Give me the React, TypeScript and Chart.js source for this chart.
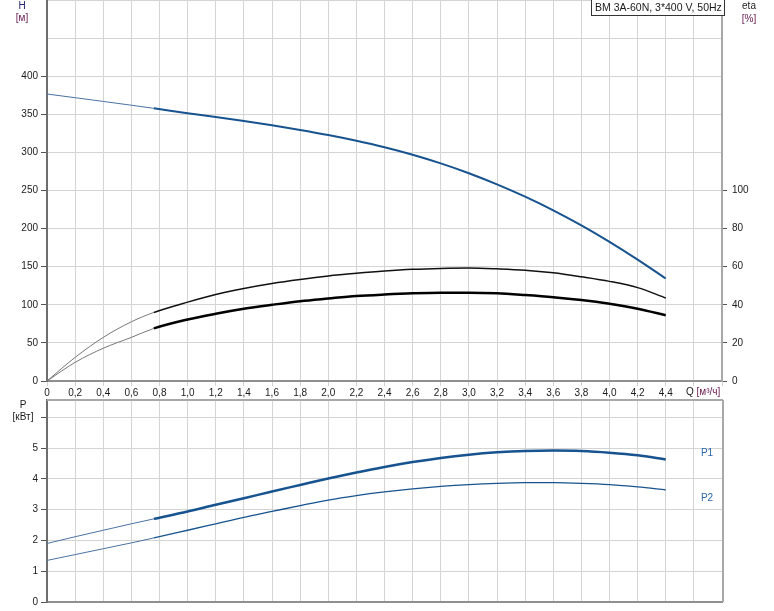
import React, { useEffect, useRef } from 'react';
import { Chart, registerables } from 'chart.js';

Chart.register(...registerables);

// ---- data ----
const Q = [0, 0.2, 0.4, 0.6, 0.76, 1.0, 1.2, 1.4, 1.6, 1.8, 2.0, 2.2, 2.4, 2.6, 2.8, 3.0, 3.2, 3.4, 3.6, 3.8, 4.0, 4.2, 4.4];
const H = [376.6, 371.8, 366.9, 361.9, 357.8, 351.5, 346.4, 341.1, 335.5, 329.4, 322.7, 315.2, 306.7, 296.9, 285.6, 272.7, 258.1, 241.9, 224.0, 204.2, 182.6, 159.3, 134.5];
const ETA_PUMP = [0, 12.4, 22.9, 31.1, 36.0, 41.4, 45.4, 48.6, 51.2, 53.3, 55.1, 56.5, 57.7, 58.6, 59.1, 59.3, 58.9, 58.2, 56.8, 54.7, 52.3, 49.0, 43.6];
const ETA_TOTAL = [0, 9.8, 17.2, 22.9, 27.6, 32.3, 35.3, 37.9, 40.0, 41.9, 43.3, 44.6, 45.4, 46.0, 46.3, 46.3, 46.0, 45.1, 44.0, 42.5, 40.5, 37.9, 34.5];
const P1 = [1.90, 2.12, 2.33, 2.54, 2.70, 2.94, 3.16, 3.37, 3.59, 3.80, 4.01, 4.205, 4.385, 4.545, 4.68, 4.785, 4.86, 4.905, 4.92, 4.905, 4.85, 4.765, 4.63];
const P2 = [1.35, 1.54, 1.73, 1.92, 2.08, 2.33, 2.54, 2.75, 2.94, 3.13, 3.31, 3.455, 3.575, 3.675, 3.755, 3.815, 3.855, 3.875, 3.875, 3.855, 3.815, 3.74, 3.64];
const THICK_FROM = 4; // index where curves become bold (Q = 0.76)

const TITLE = 'BM 3A-60N, 3*400 V, 50Hz';
const H_LABEL_MAX = 400;
const ETA_LABEL_MAX = 100;
const P_LABEL_MAX = 5;
const Q_LABEL_MAX = 4.4;

const FONT = '"Liberation Sans", Arial, Helvetica, sans-serif';
const GRID = '#d4d4d4';
const AXIS = '#8f8f8f';
const AXIS_LEFT = '#6e6e6e';
const BLUE = '#17538f';
const BLUE_THIN = '#4a72a0';
const MAROON = '#6b2056';
const NAVY = '#23236e';
const TXT = '#1a1a1a';

const pts = (ys: number[]) => Q.map((q, i) => ({ x: q, y: ys[i] }));
const fmtQ = (v: number) => {
  if (v > Q_LABEL_MAX + 0.05) return '';
  if (Math.abs(v) < 1e-9) return '0';
  return v.toFixed(1).replace('.', ',');
};
const thin = (c: any) => c.p0DataIndex < THICK_FROM;
const noPad = (s: any) => {
  s.paddingTop = 0;
  s.paddingBottom = 0;
  s.paddingLeft = 0;
  s.paddingRight = 0;
};

const topDecor = {
  id: 'topDecor',
  afterDraw(chart: any) {
    const { ctx, chartArea } = chart;
    ctx.save();
    ctx.font = `10px ${FONT}`;
    ctx.textAlign = 'center';
    ctx.textBaseline = 'middle';
    ctx.fillStyle = NAVY;
    ctx.fillText('H', 22, 6);
    ctx.fillStyle = MAROON;
    ctx.fillText('[м]', 22, 18);
    ctx.fillStyle = TXT;
    ctx.fillText('eta', 749, 6);
    ctx.fillStyle = MAROON;
    ctx.fillText('[%]', 749, 19);

    // title box
    ctx.font = `10.5px ${FONT}`;
    const tw = ctx.measureText(TITLE).width;
    const right = chartArea.right + 2.5;
    const left = Math.round(right - tw - 7) + 0.5;
    ctx.fillStyle = '#ffffff';
    ctx.fillRect(left, -1, right - left, 16.5);
    ctx.strokeStyle = '#333333';
    ctx.lineWidth = 1;
    ctx.strokeRect(left, -1, right - left, 16.5);
    ctx.fillStyle = TXT;
    ctx.textAlign = 'left';
    ctx.fillText(TITLE, left + 3.5, 8);

    // Q axis label
    ctx.font = `10px ${FONT}`;
    const qx = 686;
    ctx.fillStyle = TXT;
    ctx.fillText('Q ', qx, 392);
    const qw = ctx.measureText('Q ').width;
    ctx.fillStyle = MAROON;
    ctx.fillText('[м³/ч]', qx + qw, 392);
    ctx.restore();
  },
};

const botDecor = {
  id: 'botDecor',
  afterDraw(chart: any) {
    const { ctx, chartArea } = chart;
    ctx.save();
    ctx.strokeStyle = '#a8a8a8';
    ctx.lineWidth = 2;
    ctx.beginPath();
    ctx.moveTo(chartArea.left, chartArea.top);
    ctx.lineTo(chartArea.right + 1, chartArea.top);
    ctx.moveTo(chartArea.right + 1, chartArea.top);
    ctx.lineTo(chartArea.right + 1, chartArea.bottom);
    ctx.stroke();

    ctx.font = `10px ${FONT}`;
    ctx.textAlign = 'center';
    ctx.textBaseline = 'middle';
    ctx.fillStyle = TXT;
    ctx.fillText('P', 23, 9);
    ctx.fillText('[кВт]', 23, 21);
    ctx.fillStyle = '#2a66a8';
    ctx.fillText('P1', 707, 57);
    ctx.fillText('P2', 707, 102);
    ctx.restore();
  },
};

export default function App() {
  const topRef = useRef<HTMLCanvasElement>(null);
  const botRef = useRef<HTMLCanvasElement>(null);

  useEffect(() => {
    const tickFont = { family: FONT, size: 10 };
    const top = new Chart(topRef.current as HTMLCanvasElement, {
      type: 'line',
      data: {
        datasets: [
          {
            label: 'H',
            yAxisID: 'y',
            data: pts(H),
            borderColor: BLUE,
            borderWidth: 2,
            segment: {
              borderWidth: (c: any) => (thin(c) ? 1 : 2),
              borderColor: (c: any) => (thin(c) ? BLUE_THIN : BLUE),
            },
          },
          {
            label: 'eta pump',
            yAxisID: 'y2',
            data: pts(ETA_PUMP),
            borderColor: '#111',
            borderWidth: 1.5,
            segment: {
              borderWidth: (c: any) => (thin(c) ? 1 : 1.5),
              borderColor: (c: any) => (thin(c) ? '#777' : '#111'),
            },
          },
          {
            label: 'eta total',
            yAxisID: 'y2',
            data: pts(ETA_TOTAL),
            borderColor: '#000',
            borderWidth: 2.5,
            segment: {
              borderWidth: (c: any) => (thin(c) ? 1 : 2.5),
              borderColor: (c: any) => (thin(c) ? '#777' : '#000'),
            },
          },
        ],
      },
      options: {
        responsive: false,
        animation: false,
        events: [],
        layout: { padding: 0 },
        plugins: { legend: { display: false }, tooltip: { enabled: false } },
        elements: { point: { radius: 0 }, line: { cubicInterpolationMode: 'monotone', fill: false } },
        scales: {
          x: {
            type: 'linear',
            min: 0,
            max: 4.8,
            afterFit: (s: any) => { s.height = 19; noPad(s); },
            ticks: { stepSize: 0.2, autoSkip: false, maxRotation: 0, padding: 1, color: TXT, font: tickFont, callback: (v: any) => fmtQ(Number(v)) },
            grid: { color: GRID, tickLength: 5, tickColor: GRID },
            border: { color: AXIS, width: 2 },
          },
          y: {
            position: 'left',
            min: 0,
            max: 500,
            afterFit: (s: any) => { s.width = 47; noPad(s); },
            ticks: { stepSize: 50, padding: 3, color: TXT, font: tickFont, callback: (v: any) => (Number(v) <= H_LABEL_MAX ? String(v) : '') },
            grid: { color: GRID, tickLength: 6, tickColor: (c: any) => (c.tick && c.tick.value > H_LABEL_MAX ? 'rgba(0,0,0,0)' : '#555') },
            border: { color: AXIS_LEFT, width: 2 },
          },
          y2: {
            position: 'right',
            min: 0,
            max: 200,
            afterFit: (s: any) => { s.width = 52; noPad(s); },
            ticks: { stepSize: 20, padding: 5, color: TXT, font: tickFont, callback: (v: any) => (Number(v) <= ETA_LABEL_MAX ? String(v) : '') },
            grid: { drawOnChartArea: false, tickLength: 5, tickColor: (c: any) => (c.tick && c.tick.value > ETA_LABEL_MAX ? 'rgba(0,0,0,0)' : '#555') },
            border: { color: '#a8a8a8', width: 2 },
          },
        },
      } as any,
      plugins: [topDecor],
    });

    const bot = new Chart(botRef.current as HTMLCanvasElement, {
      type: 'line',
      data: {
        datasets: [
          {
            label: 'P1',
            data: pts(P1),
            borderColor: BLUE,
            borderWidth: 2.5,
            segment: {
              borderWidth: (c: any) => (thin(c) ? 1 : 2.5),
              borderColor: (c: any) => (thin(c) ? BLUE_THIN : BLUE),
            },
          },
          {
            label: 'P2',
            data: pts(P2),
            borderColor: BLUE,
            borderWidth: 1.3,
            segment: {
              borderWidth: (c: any) => (thin(c) ? 1 : 1.3),
              borderColor: (c: any) => (thin(c) ? BLUE_THIN : BLUE),
            },
          },
        ],
      },
      options: {
        responsive: false,
        animation: false,
        events: [],
        layout: { padding: { top: 4, right: 52, left: 0, bottom: 0 } },
        plugins: { legend: { display: false }, tooltip: { enabled: false } },
        elements: { point: { radius: 0 }, line: { cubicInterpolationMode: 'monotone', fill: false } },
        scales: {
          x: {
            type: 'linear',
            min: 0,
            max: 4.8,
            afterFit: (s: any) => { s.height = 9; noPad(s); },
            ticks: { display: false, stepSize: 0.2, autoSkip: false },
            grid: { color: GRID, drawTicks: false },
            border: { color: AXIS, width: 2 },
          },
          y: {
            position: 'left',
            min: 0,
            max: 6.56,
            afterFit: (s: any) => { s.width = 47; noPad(s); },
            ticks: { stepSize: 1, includeBounds: false, padding: 3, color: TXT, font: tickFont, callback: (v: any) => (Number(v) <= P_LABEL_MAX ? String(v) : '') },
            grid: { color: GRID, tickLength: 6, tickColor: '#555' },
            border: { color: AXIS_LEFT, width: 2 },
          },
        },
      } as any,
      plugins: [botDecor],
    });

    return () => {
      top.destroy();
      bot.destroy();
    };
  }, []);

  return (
    <div style={{ position: 'absolute', left: 0, top: 0, width: 774, height: 611, background: '#fff' }}>
      <canvas ref={topRef} width={774} height={400} style={{ position: 'absolute', left: 0, top: 0, width: 774, height: 400 }} />
      <canvas ref={botRef} width={774} height={215} style={{ position: 'absolute', left: 0, top: 396, width: 774, height: 215 }} />
    </div>
  );
}
